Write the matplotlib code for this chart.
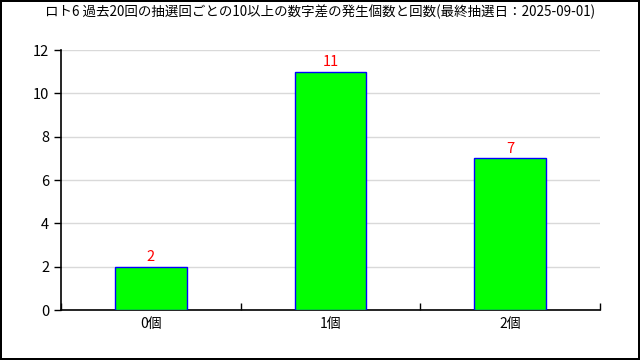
import matplotlib.pyplot as plt
import numpy as np

plt.rcParams['font.family'] = ['Noto Sans CJK JP', 'DejaVu Sans']

categories = ["0個", "1個", "2個"]
counts = [2, 11, 7]
title = "ロト6 過去20回の抽選回ごとの10以上の数字差の発生個数と回数(最終抽選日：2025-09-01)"

fig = plt.figure(figsize=(6.4, 3.6), dpi=100)
fig.patch.set_edgecolor("black")
fig.patch.set_linewidth(1.5)
ax = fig.add_axes([61 / 640, 50 / 360, 539 / 640, 260 / 360])

x = np.arange(len(categories))
ax.bar(x, counts, width=0.4, color="#00ff00", edgecolor="blue", linewidth=1, zorder=3)
for xi, v in zip(x, counts):
    ax.text(xi, v + 0.12, str(v), color="red", ha="center", va="bottom", fontsize=10.5)

ax.set_xlim(-0.5, 2.5)
ax.set_ylim(0, 12)
ax.set_yticks(range(0, 13, 2))
ax.yaxis.grid(True, color="#d9d9d9", linewidth=1, zorder=0)
ax.set_xticks(x)
ax.set_xticklabels(categories)
ax.set_xticks([-0.5, 0.5, 1.5, 2.5], minor=True)
ax.tick_params(axis="x", which="major", length=0, labelsize=10, pad=5)
ax.tick_params(axis="x", which="minor", direction="in", length=5, width=1)
ax.tick_params(axis="y", length=5, width=1, labelsize=10.5)
for s in ["top", "right"]:
    ax.spines[s].set_visible(False)
for s in ["left", "bottom"]:
    ax.spines[s].set_linewidth(1.2)

fig.text(0.5, 1 - 12 / 360, title, ha="center", va="center", fontsize=9.7)

fig.savefig("out.png", dpi=100, edgecolor=fig.get_edgecolor())
